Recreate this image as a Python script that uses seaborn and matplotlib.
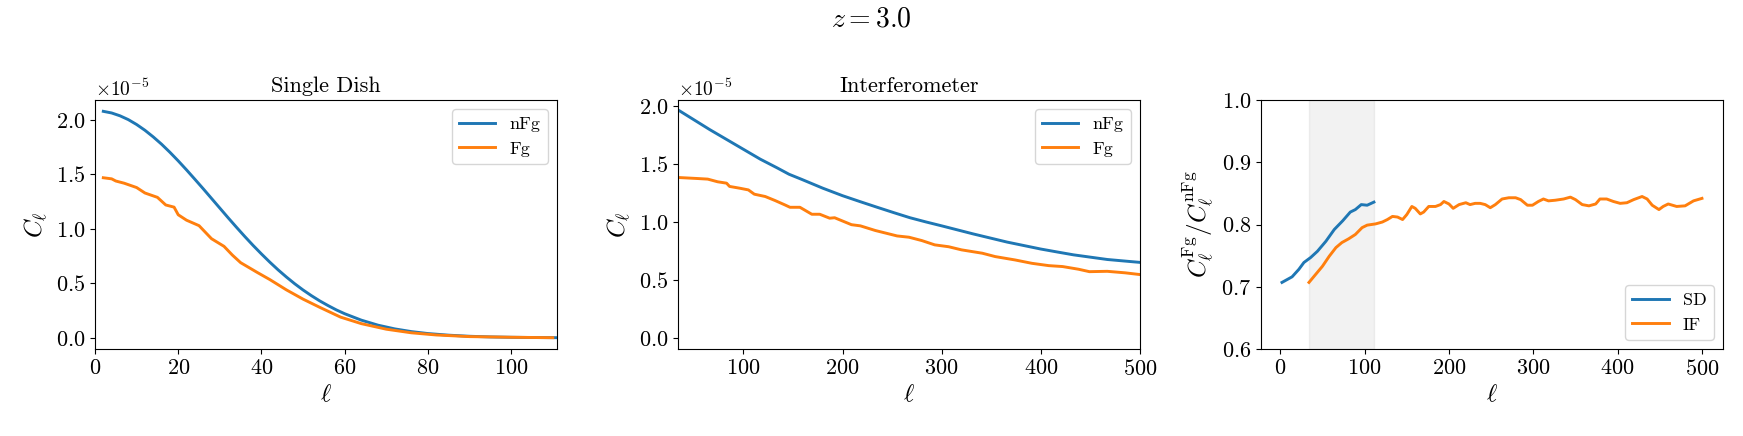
import numpy as np
import matplotlib
matplotlib.use("Agg")
import matplotlib.pyplot as plt
import seaborn as sns

# ---- data (C_ell in units of 1e-5) ----
# single dish
ell_sd_nfg = [2, 4, 6, 8, 10, 12, 14, 16, 18, 20, 22, 24, 26, 28, 30, 32, 34, 36, 38,
              40, 42, 44, 46, 48, 50, 52, 54, 56, 58, 60, 64, 68, 72, 76, 80, 85, 90,
              95, 100, 105, 111]
cl_sd_nfg = [2.080, 2.065, 2.039, 2.004, 1.959, 1.906, 1.845, 1.778, 1.704, 1.625,
             1.542, 1.456, 1.369, 1.280, 1.191, 1.102, 1.015, 0.930, 0.848, 0.770,
             0.695, 0.624, 0.558, 0.496, 0.439, 0.387, 0.339, 0.296, 0.256, 0.221,
             0.162, 0.116, 0.082, 0.057, 0.039, 0.024, 0.014, 0.008, 0.0047, 0.0026,
             0.0012]
ell_sd_fg = [2, 4, 5, 7, 10, 12, 15, 17, 19, 20, 22, 25, 28, 31, 33, 35, 39, 42,
             46, 50, 54, 59, 64, 70, 76, 82, 90, 100, 110]
cl_sd_fg = [1.47, 1.46, 1.44, 1.42, 1.38, 1.33, 1.29, 1.22, 1.20, 1.13, 1.08, 1.03,
            0.91, 0.84, 0.76, 0.69, 0.60, 0.535, 0.44, 0.355, 0.28, 0.19, 0.13,
            0.079, 0.046, 0.026, 0.011, 0.005, 0.0009]

# interferometer
ell_if_nfg = [34, 50, 66, 83, 100, 117, 134, 146, 159, 180, 200, 218, 235, 252, 268,
              284, 300, 316, 332, 349, 366, 383, 400, 417, 433, 450, 467, 484, 500]
cl_if_nfg = [1.97, 1.885, 1.80, 1.715, 1.63, 1.545, 1.47, 1.415, 1.37, 1.295, 1.23,
             1.178, 1.13, 1.083, 1.04, 1.004, 0.97, 0.935, 0.90, 0.865, 0.83, 0.80,
             0.77, 0.744, 0.72, 0.70, 0.68, 0.667, 0.655]
ell_if_fg = [34, 54, 64, 74, 83, 86, 96, 105, 111, 122, 132, 142, 147, 157, 169, 177,
             187, 192, 209, 218, 233, 255, 267, 280, 293, 307, 320, 341, 354, 374,
             391, 408, 422, 438, 449, 467, 485, 500]
cl_if_fg = [1.387, 1.378, 1.373, 1.35, 1.338, 1.31, 1.295, 1.28, 1.243, 1.223, 1.188,
            1.15, 1.13, 1.13, 1.07, 1.07, 1.036, 1.04, 0.98, 0.97, 0.93, 0.883, 0.872,
            0.843, 0.806, 0.79, 0.763, 0.734, 0.705, 0.676, 0.647, 0.627, 0.619,
            0.596, 0.575, 0.578, 0.565, 0.55]

# ratios
ell_ratio_sd = [2, 6, 14, 22, 28, 36, 44, 54, 64, 74, 83, 89, 96, 103, 111]
ratio_sd = [0.707, 0.710, 0.716, 0.728, 0.739, 0.747, 0.757, 0.773, 0.792, 0.806,
            0.820, 0.824, 0.832, 0.831, 0.836]
ell_ratio_if = [34, 42, 50, 58, 66, 73, 81, 89, 97, 103, 113, 121, 127, 133, 139, 145,
                150, 156, 160, 166, 170, 176, 184, 190, 194, 200, 205, 212, 220, 225,
                231, 237, 243, 249, 255, 263, 271, 279, 285, 293, 299, 306, 312, 318,
                326, 336, 344, 350, 358, 366, 374, 379, 387, 395, 403, 411, 419, 429,
                435, 441, 449, 454, 460, 470, 480, 490, 500]
ratio_if = [0.707, 0.720, 0.733, 0.749, 0.763, 0.771, 0.777, 0.784, 0.795, 0.799,
            0.801, 0.804, 0.808, 0.813, 0.812, 0.808, 0.816, 0.829, 0.826, 0.817,
            0.820, 0.829, 0.829, 0.832, 0.837, 0.833, 0.826, 0.832, 0.835, 0.832,
            0.834, 0.834, 0.832, 0.827, 0.832, 0.841, 0.843, 0.843, 0.840, 0.831,
            0.831, 0.837, 0.841, 0.838, 0.839, 0.841, 0.844, 0.840, 0.832, 0.830,
            0.833, 0.841, 0.841, 0.837, 0.834, 0.835, 0.840, 0.845, 0.841, 0.831,
            0.824, 0.829, 0.833, 0.829, 0.830, 0.838, 0.842]

band = (34, 111)

plt.rcParams['font.family'] = ['cmr10', 'DejaVu Serif']
plt.rcParams['mathtext.fontset'] = 'cm'
plt.rcParams['axes.formatter.use_mathtext'] = True

blue, orange = "#1f77b4", "#ff7f0e"
lw = 2.1

fig, axes = plt.subplots(1, 3, figsize=(17.43, 4.36), dpi=100)
fig.subplots_adjust(left=0.0545, right=0.9885, bottom=0.1995, top=0.7706, wspace=0.262)

#single dish
ax = axes[0]
sns.lineplot(x=ell_sd_nfg, y=np.array(cl_sd_nfg) * 1e-5, ax=ax, color=blue, lw=lw, label="nFg")
sns.lineplot(x=ell_sd_fg, y=np.array(cl_sd_fg) * 1e-5, ax=ax, color=orange, lw=lw, label="Fg")
ax.set_xlim(0, 111)
ax.set_title("Single Dish", fontsize=16)
ax.set_ylabel(r"$C_\ell$", fontsize=18)

#interferometer
ax = axes[1]
sns.lineplot(x=ell_if_nfg, y=np.array(cl_if_nfg) * 1e-5, ax=ax, color=blue, lw=lw, label="nFg")
sns.lineplot(x=ell_if_fg, y=np.array(cl_if_fg) * 1e-5, ax=ax, color=orange, lw=lw, label="Fg")
ax.set_xlim(34, 500)
ax.set_ylim(-0.092e-5, 2.055e-5)
ax.set_title("Interferometer", fontsize=16)
ax.set_ylabel(r"$C_\ell$", fontsize=18)

#ratio
ax = axes[2]
ax.axvspan(*band, color="gray", alpha=0.1)
sns.lineplot(x=ell_ratio_sd, y=ratio_sd, ax=ax, color=blue, lw=lw, label="SD")
sns.lineplot(x=ell_ratio_if, y=ratio_if, ax=ax, color=orange, lw=lw, label="IF")
ax.set_ylim(0.6, 1.0)
ax.set_ylabel(r"$C_\ell^{\rm Fg}/C_\ell^{\rm nFg}$", fontsize=18)

for i, ax in enumerate(axes):
    ax.set_xlabel(r"$\ell$", fontsize=18)
    ax.tick_params(labelsize=16)
    ax.yaxis.get_offset_text().set_fontsize(14)
    ax.legend(loc="lower right" if i == 2 else "upper right", fontsize=13)

fig.suptitle(r"$z = 3.0$", y=0.955, va="center", fontsize=20)
fig.savefig("out.png", dpi=100)
